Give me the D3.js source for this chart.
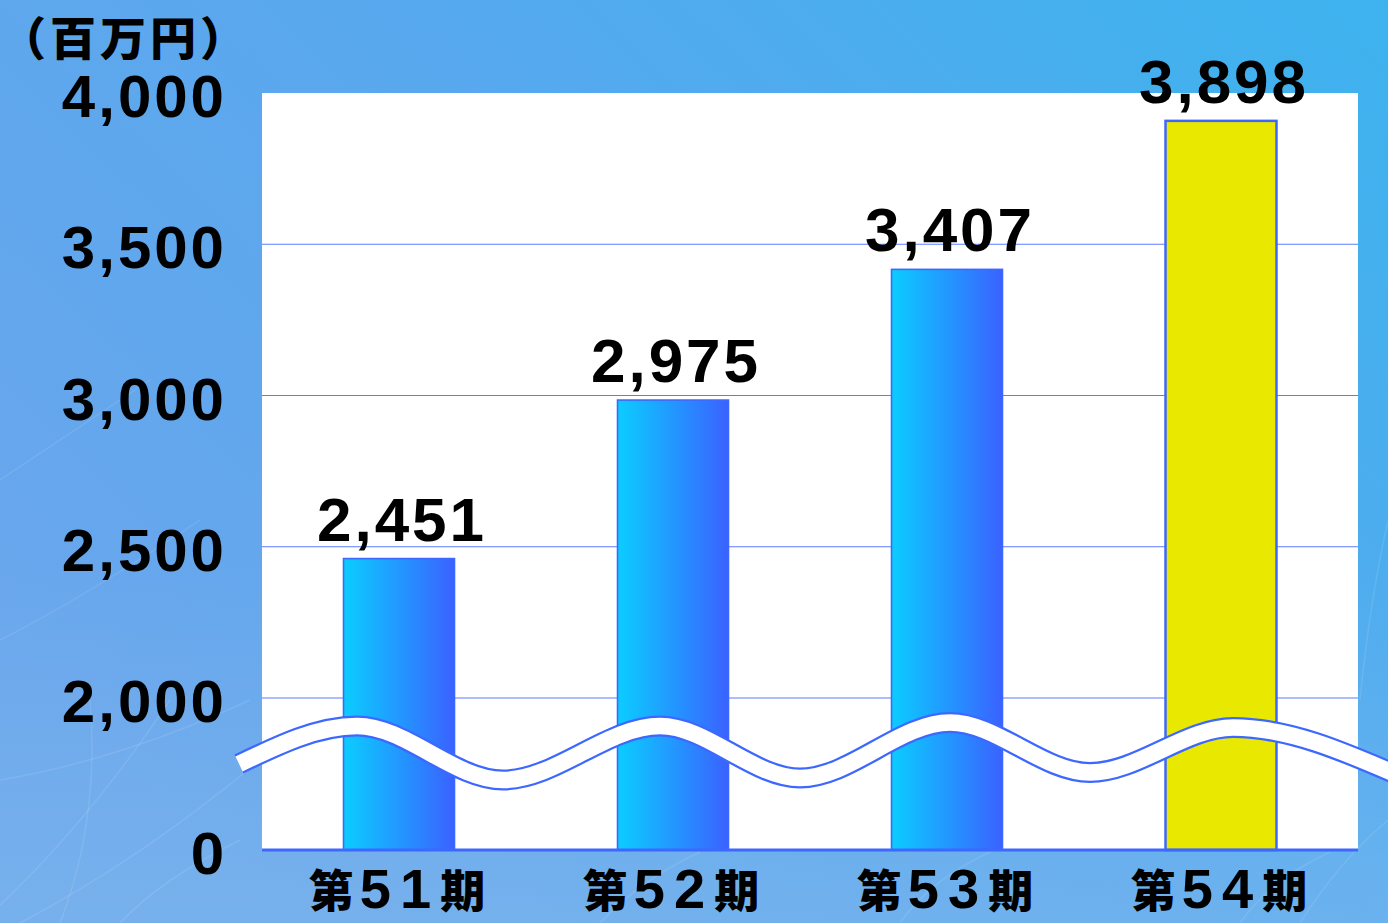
<!DOCTYPE html>
<html>
<head>
<meta charset="utf-8">
<script src="https://cdn.jsdelivr.net/npm/d3@7"></script>
<style>
  html, body { margin: 0; padding: 0; overflow: hidden; }
  svg { display: block; }
</style>
</head>
<body>
<script>
// data
var periods = ["第51期", "第52期", "第53期", "第54期"];
var periodNums = ["51", "52", "53", "54"];
var sales = [2451, 2975, 3407, 3898];
var valueLabels = ["2,451", "2,975", "3,407", "3,898"];
var tickValues = [0, 2000, 2500, 3000, 3500, 4000];
var tickLabels = ["0", "2,000", "2,500", "3,000", "3,500", "4,000"];
var gridValues = [2000, 2500, 3000, 3500];
var unitLabel = "（百万円）";

var W = 1388, H = 923;
var plot = {left: 262, right: 1358, top: 93, bottom: 850};

var svg = d3.select("body").append("svg")
    .attr("width", W)
    .attr("height", H);

var defs = svg.append("defs");

var bg = defs.append("linearGradient").attr("id", "bg")
    .attr("x1", "0").attr("y1", "0.7").attr("x2", "1").attr("y2", "0");
bg.append("stop").attr("offset", "0").attr("stop-color", "#6aa6ec");
bg.append("stop").attr("offset", "0.5").attr("stop-color", "#58a8ee");
bg.append("stop").attr("offset", "1").attr("stop-color", "#3db3ee");

var bgLow = defs.append("linearGradient").attr("id", "bgLow")
    .attr("x1", "0").attr("y1", "0").attr("x2", "0").attr("y2", "1");
bgLow.append("stop").attr("offset", "0.6").attr("stop-color", "#8fc4ee").attr("stop-opacity", 0);
bgLow.append("stop").attr("offset", "1").attr("stop-color", "#8fc4ee").attr("stop-opacity", 0.35);

var barGrad = defs.append("linearGradient").attr("id", "barGrad")
    .attr("x1", "0").attr("y1", "0").attr("x2", "1").attr("y2", "0");
barGrad.append("stop").attr("offset", "0").attr("stop-color", "#0bcdff");
barGrad.append("stop").attr("offset", "1").attr("stop-color", "#3a62ff");

svg.append("rect").attr("width", W).attr("height", H).attr("fill", "url(#bg)");
svg.append("rect").attr("width", W).attr("height", H).attr("fill", "url(#bgLow)");

// faint fibre texture in the background
var fibres = svg.append("g")
    .attr("fill", "none")
    .attr("stroke", "#ffffff")
    .attr("stroke-opacity", 0.1)
    .attr("stroke-width", 1.5);
[
  "M0,905 Q90,820 170,700", "M20,923 Q140,860 260,760", "M60,923 Q100,820 90,700",
  "M0,640 Q80,600 200,520", "M0,480 Q60,440 150,380", "M0,780 Q120,760 250,700",
  "M120,923 Q160,880 240,840", "M600,923 Q640,880 700,852", "M900,923 Q930,880 990,852",
  "M1300,923 Q1340,860 1388,820", "M1360,700 Q1370,600 1388,520", "M1240,923 Q1270,880 1330,852"
].forEach(function(p) { fibres.append("path").attr("d", p); });

// plot area
svg.append("rect")
    .attr("x", plot.left).attr("y", plot.top)
    .attr("width", plot.right - plot.left)
    .attr("height", plot.bottom - plot.top)
    .attr("fill", "#ffffff");

var x = d3.scaleBand().domain(periods)
    .range([plot.left, plot.right])
    .paddingInner(0.595)
    .paddingOuter(0.2975);

// broken axis: 0..2000 squeezed into one interval
var y = d3.scaleLinear().domain([0, 2000, 4000]).range([plot.bottom, 698, plot.top]);

// grid lines
svg.append("g").selectAll("line").data(gridValues).enter().append("line")
    .attr("x1", plot.left).attr("x2", plot.right)
    .attr("y1", function(d) { return y(d); })
    .attr("y2", function(d) { return y(d); })
    .attr("stroke", "#5b7dff")
    .attr("stroke-width", 1.2);

// bars
svg.append("g").selectAll("rect").data(sales).enter().append("rect")
    .attr("x", function(d, i) { return x(periods[i]); })
    .attr("y", function(d) { return y(d) - 3; })
    .attr("width", x.bandwidth())
    .attr("height", function(d) { return plot.bottom - y(d) + 3; })
    .attr("fill", function(d, i) { return i === sales.length - 1 ? "#e8e800" : "url(#barGrad)"; })
    .attr("stroke", "#3d68ff")
    .attr("stroke-width", function(d, i) { return i === sales.length - 1 ? 2.5 : 1.6; });

// axis break wave
var wave = [[239, 764], [357, 726], [503, 780], [660, 726], [800, 778],
            [950, 722.5], [1090, 772.5], [1233, 727.5], [1400, 776]];
var waveLine = d3.line().curve(d3.curveMonotoneX);
svg.append("path").attr("d", waveLine(wave))
    .attr("fill", "none").attr("stroke", "#3d68ff").attr("stroke-width", 21);
svg.append("path").attr("d", waveLine(wave))
    .attr("fill", "none").attr("stroke", "#ffffff").attr("stroke-width", 16.5);

// baseline
svg.append("line")
    .attr("x1", plot.left).attr("x2", plot.right)
    .attr("y1", plot.bottom).attr("y2", plot.bottom)
    .attr("stroke", "#3d68ff")
    .attr("stroke-width", 3);

// value labels
svg.append("g").selectAll("text").data(sales).enter().append("text")
    .attr("x", function(d, i) { return x(periods[i]) + x.bandwidth() / 2 + 3; })
    .attr("y", function(d) { return y(d) - 21; })
    .attr("text-anchor", "middle")
    .attr("font-family", "'Liberation Sans', Arial, sans-serif")
    .attr("font-weight", "bold")
    .attr("font-size", "62px")
    .attr("letter-spacing", "3px")
    .attr("fill", "#000")
    .text(function(d, i) { return valueLabels[i]; });

// y tick labels
svg.append("g").selectAll("text").data(tickValues).enter().append("text")
    .attr("x", 227)
    .attr("y", function(d) { return y(d) + 24; })
    .attr("text-anchor", "end")
    .attr("font-family", "'Liberation Sans', Arial, sans-serif")
    .attr("font-weight", "bold")
    .attr("font-size", "60px")
    .attr("letter-spacing", "3px")
    .attr("fill", "#000")
    .text(function(d, i) { return tickLabels[i]; });

// category labels: kanji + latin digits
var cat = svg.append("g").selectAll("text").data(periods).enter().append("text")
    .attr("x", function(d) { return x(d) + x.bandwidth() / 2 - 2; })
    .attr("y", 908)
    .attr("text-anchor", "middle")
    .attr("font-family", "'Noto Sans CJK JP', sans-serif")
    .attr("font-weight", 900)
    .attr("font-size", "45px")
    .attr("fill", "#000");
cat.append("tspan").text("第");
cat.append("tspan")
    .attr("dx", 6)
    .attr("font-family", "'Liberation Sans', Arial, sans-serif")
    .attr("font-weight", "bold")
    .attr("font-size", "56px")
    .attr("letter-spacing", "9px")
    .text(function(d, i) { return periodNums[i]; });
cat.append("tspan").text("期");

// unit
svg.append("text")
    .attr("x", 0)
    .attr("y", 55)
    .attr("font-family", "'Noto Sans CJK JP', sans-serif")
    .attr("font-weight", 900)
    .attr("font-size", "46px")
    .attr("letter-spacing", "4px")
    .attr("fill", "#000")
    .text(unitLabel);
</script>
</body>
</html>
